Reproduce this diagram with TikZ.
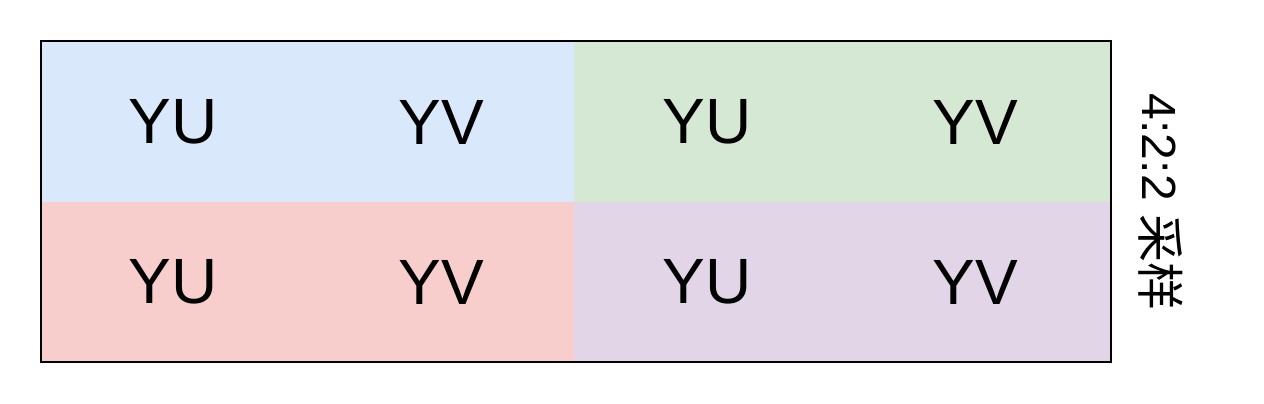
\documentclass[tikz,border=0pt]{standalone}
\usepackage{fontspec}
\setmainfont{Liberation Sans}
\newfontfamily\cjk{Noto Sans CJK SC}
\definecolor{cblue}{HTML}{DAE8FC}
\definecolor{cgreen}{HTML}{D5E8D4}
\definecolor{cred}{HTML}{F8CECC}
\definecolor{cpurple}{HTML}{E1D5E7}
\begin{document}
\begin{tikzpicture}[x=1pt,y=-1pt,
  cell/.style={font=\fontsize{64}{70}\selectfont, inner sep=0pt, anchor=center},
  lab/.style={font=\fontsize{48}{52}\selectfont, inner sep=0pt, rotate=-90, anchor=center}]
\useasboundingbox (0,0) rectangle (1264,404);
\fill[white] (0,0) rectangle (1264,404);
\fill[cblue] (41,41) rectangle (574,202);
\fill[cgreen] (574,41) rectangle (1111,202);
\fill[cred] (41,202) rectangle (574,362);
\fill[cpurple] (574,202) rectangle (1111,362);
\draw[line width=1.5pt] (41,41) rectangle (1111,362);
\node[cell] (a1) at (173,122) {YU};
\node[cell] (a2) at (441,122) {YV};
\node[cell] (a3) at (707,122) {YU};
\node[cell] (a4) at (975,122) {YV};
\node[cell] (b1) at (173,282) {YU};
\node[cell] (b2) at (441,282) {YV};
\node[cell] (b3) at (707,282) {YU};
\node[cell] (b4) at (975,282) {YV};
\node[lab] (l) at (1161,202) {4:2:2 {\cjk 采样}};
\end{tikzpicture}
\end{document}
